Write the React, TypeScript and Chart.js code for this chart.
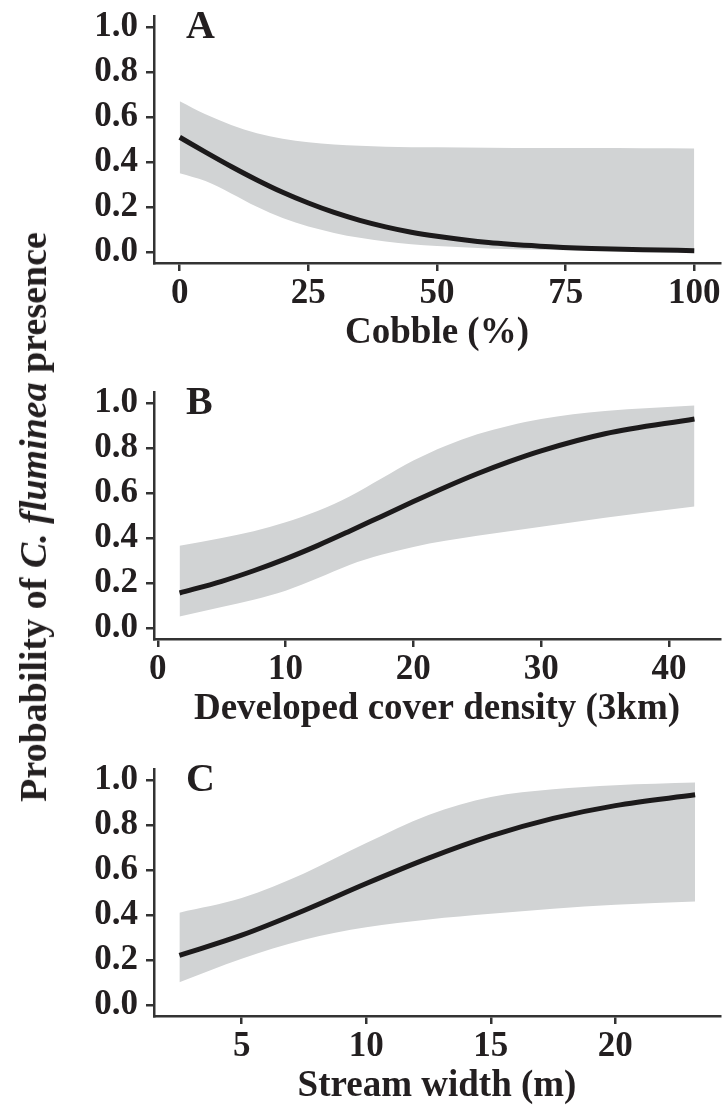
import React, { useEffect, useRef } from "react";
import { Chart, registerables } from "chart.js";

Chart.register(...registerables);

// ---------- data ----------
const probTicks = [0, 0.2, 0.4, 0.6, 0.8, 1.0];

// Panel A – Cobble (%)
const cobbleX = [0, 5, 10, 15, 20, 25, 30, 35, 40, 45, 50, 60, 70, 80, 90, 100];
const cobbleFit = [0.51, 0.444, 0.38, 0.32, 0.265, 0.217, 0.175, 0.14, 0.111, 0.087, 0.069, 0.041, 0.025, 0.015, 0.009, 0.005];
const cobbleUpper = [0.67, 0.612, 0.565, 0.528, 0.503, 0.488, 0.478, 0.472, 0.468, 0.466, 0.465, 0.463, 0.462, 0.462, 0.461, 0.46];
const cobbleLower = [0.35, 0.315, 0.26, 0.2, 0.15, 0.112, 0.084, 0.062, 0.046, 0.034, 0.026, 0.015, 0.009, 0.005, 0.003, 0.002];
const cobbleTicks = [0, 25, 50, 75, 100];

// Panel B – Developed cover density (3km)
const devX = [1.7, 5, 7.5, 10, 12.5, 15, 17.5, 20, 22.5, 25, 27.5, 30, 35, 42];
const devFit = [0.155, 0.207, 0.254, 0.307, 0.366, 0.43, 0.496, 0.562, 0.626, 0.686, 0.74, 0.788, 0.864, 0.93];
const devUpper = [0.365, 0.4, 0.43, 0.47, 0.52, 0.585, 0.665, 0.745, 0.81, 0.862, 0.9, 0.93, 0.965, 0.99];
const devLower = [0.05, 0.093, 0.125, 0.165, 0.22, 0.28, 0.325, 0.36, 0.387, 0.41, 0.43, 0.45, 0.49, 0.54];
const devTicks = [0, 10, 20, 30, 40];

// Panel C – Stream width (m)
const widthX = [2.5, 5, 7.5, 10, 12.5, 15, 17.5, 20, 23.2];
const widthFit = [0.22, 0.31, 0.42, 0.54, 0.653, 0.752, 0.83, 0.887, 0.935];
const widthUpper = [0.41, 0.475, 0.585, 0.72, 0.845, 0.925, 0.96, 0.978, 0.99];
const widthLower = [0.1, 0.205, 0.29, 0.345, 0.38, 0.405, 0.428, 0.445, 0.46];
const widthTicks = [5, 10, 15, 20];

// ---------- styles ----------
const FAMILY = '"Liberation Serif", "Times New Roman", serif';
const TEXT = "#231f20";
const AXIS = "#333333";
const LINE = "#1c1a1b";
const BAND = "#d1d3d4";

const CANVAS_W = 727;
const CANVAS_H = 352;

const letterPlugin = {
  id: "panelLetter",
  afterDraw(chart: any, _args: any, opts: any) {
    const { ctx, chartArea } = chart;
    ctx.save();
    ctx.font = `bold 40px ${FAMILY}`;
    ctx.fillStyle = TEXT;
    ctx.textAlign = "left";
    ctx.textBaseline = "alphabetic";
    ctx.fillText(opts.text, chartArea.left + 32, chartArea.top + 21.5);
    ctx.restore();
  },
};

type PanelProps = {
  top: number;
  letter: string;
  xs: number[];
  fit: number[];
  upper: number[];
  lower: number[];
  xTicks: number[];
  xMin: number;
  xMax: number;
  title: string;
};

function Panel({ top, letter, xs, fit, upper, lower, xTicks, xMin, xMax, title }: PanelProps) {
  const ref = useRef<HTMLCanvasElement>(null);
  useEffect(() => {
    const pts = (ys: number[]) => xs.map((x, i) => ({ x, y: ys[i] }));
    const tickFont = { family: FAMILY, size: 35, weight: "bold" as const, lineHeight: 1 };
    const chart = new Chart(ref.current as HTMLCanvasElement, {
      type: "line",
      data: {
        datasets: [
          {
            data: pts(fit),
            borderColor: LINE,
            borderWidth: 5,
            pointRadius: 0,
            cubicInterpolationMode: "monotone",
            fill: false,
          },
          {
            data: pts(lower),
            borderColor: "rgba(0,0,0,0)",
            borderWidth: 0,
            pointRadius: 0,
            cubicInterpolationMode: "monotone",
            fill: false,
          },
          {
            data: pts(upper),
            borderColor: "rgba(0,0,0,0)",
            backgroundColor: BAND,
            borderWidth: 0,
            pointRadius: 0,
            cubicInterpolationMode: "monotone",
            fill: "-1",
          },
        ],
      } as any,
      options: {
        responsive: false,
        animation: false,
        events: [],
        layout: { padding: { top: 16, right: 7, left: 0, bottom: 0 } },
        plugins: {
          legend: { display: false },
          tooltip: { enabled: false },
          panelLetter: { text: letter },
        } as any,
        scales: {
          x: {
            type: "linear",
            min: xMin,
            max: xMax,
            afterBuildTicks: (s: any) => {
              s.ticks = xTicks.map((v) => ({ value: v }));
            },
            afterFit: (s: any) => {
              s.height = 89;
              s.paddingLeft = 0;
              s.paddingRight = 0;
            },
            ticks: {
              autoSkip: false,
              maxRotation: 0,
              padding: 5,
              color: TEXT,
              font: tickFont,
              callback: (v: any) => String(v),
            },
            grid: {
              display: true,
              drawOnChartArea: false,
              drawTicks: true,
              tickLength: 8,
              color: AXIS,
              lineWidth: 2.5,
            },
            border: { display: true, color: AXIS, width: 2.5 },
            title: {
              display: true,
              text: title,
              color: TEXT,
              padding: { top: 0, bottom: 0 },
              font: { family: FAMILY, size: 37, weight: "bold", lineHeight: 1 },
            },
          },
          y: {
            type: "linear",
            min: -0.05,
            max: 1.05,
            afterBuildTicks: (s: any) => {
              s.ticks = probTicks.map((v) => ({ value: v }));
            },
            afterFit: (s: any) => {
              s.width = 154;
              s.paddingTop = 0;
              s.paddingBottom = 0;
            },
            ticks: {
              autoSkip: false,
              padding: 8,
              color: TEXT,
              font: tickFont,
              callback: (v: any) => Number(v).toFixed(1),
            },
            grid: {
              display: true,
              drawOnChartArea: false,
              drawTicks: true,
              tickLength: 8,
              color: AXIS,
              lineWidth: 2.5,
            },
            border: { display: true, color: AXIS, width: 2.5 },
          },
        },
      } as any,
      plugins: [letterPlugin],
    });
    return () => chart.destroy();
  }, []);
  return (
    <canvas
      ref={ref}
      width={CANVAS_W}
      height={CANVAS_H}
      style={{ position: "absolute", left: 0, top, width: CANVAS_W, height: CANVAS_H }}
    />
  );
}

export default function App() {
  return (
    <div
      style={{
        position: "absolute",
        left: 0,
        top: 0,
        width: 727,
        height: 1106,
        overflow: "hidden",
        background: "#ffffff",
      }}
    >
      <Panel
        top={0}
        letter="A"
        xs={cobbleX}
        fit={cobbleFit}
        upper={cobbleUpper}
        lower={cobbleLower}
        xTicks={cobbleTicks}
        xMin={-5}
        xMax={105}
        title="Cobble (%)"
      />
      <Panel
        top={376}
        letter="B"
        xs={devX}
        fit={devFit}
        upper={devUpper}
        lower={devLower}
        xTicks={devTicks}
        xMin={-0.3}
        xMax={44.0}
        title="Developed cover density (3km)"
      />
      <Panel
        top={753}
        letter="C"
        xs={widthX}
        fit={widthFit}
        upper={widthUpper}
        lower={widthLower}
        xTicks={widthTicks}
        xMin={1.48}
        xMax={24.2}
        title="Stream width (m)"
      />
      <div
        style={{
          position: "absolute",
          left: 32.5,
          top: 517,
          transform: "translate(-50%, -50%) rotate(-90deg)",
          whiteSpace: "nowrap",
          fontFamily: FAMILY,
          fontWeight: "bold",
          fontSize: 38,
          lineHeight: 1,
          color: TEXT,
        }}
      >
        Probability of <i>C. fluminea</i> presence
      </div>
    </div>
  );
}
